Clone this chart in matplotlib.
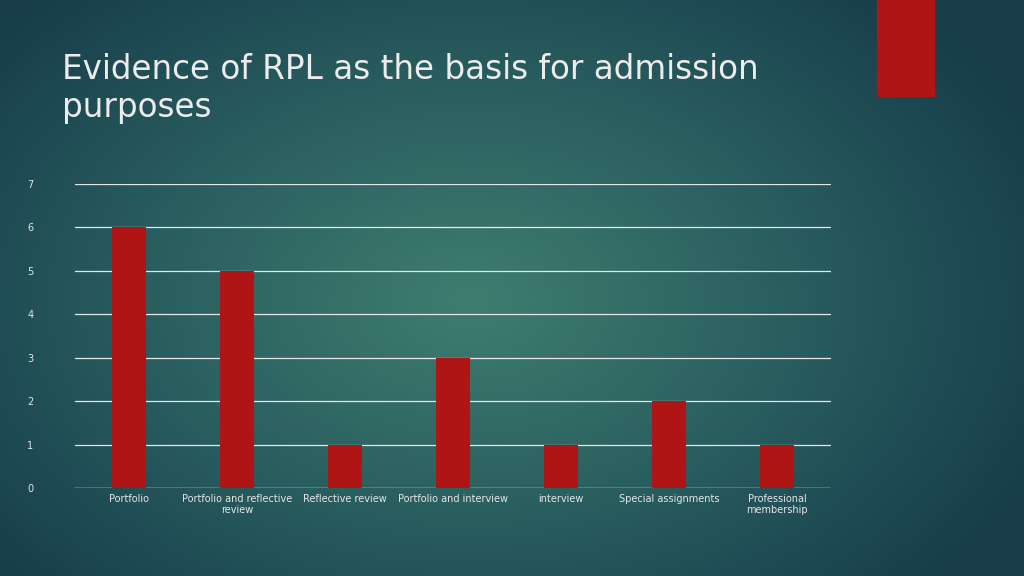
import numpy as np
import matplotlib
matplotlib.use("Agg")
import matplotlib.pyplot as plt
from matplotlib.colors import LinearSegmentedColormap
from matplotlib.patches import Rectangle

categories = ["Portfolio", "Portfolio and reflective\nreview", "Reflective review",
              "Portfolio and interview", "interview", "Special assignments",
              "Professional\nmembership"]
values = [6, 5, 1, 3, 1, 2, 1]
yticks = [0, 1, 2, 3, 4, 5, 6, 7]
title = "Evidence of RPL as the basis for admission\npurposes"

fig = plt.figure(figsize=(10.24, 5.76), dpi=100)

# background radial gradient
bg = fig.add_axes([0, 0, 1, 1])
yy, xx = np.mgrid[0:576, 0:1024]
d = np.sqrt(((xx - 470) / 620.0) ** 2 + ((yy - 300) / 420.0) ** 2)
cmap = LinearSegmentedColormap.from_list("bg", ["#3f7d70", "#2a5f60", "#173d4b"])
bg.imshow(np.clip(d, 0, 1), cmap=cmap, aspect="auto", extent=[0, 1024, 576, 0])
bg.add_patch(Rectangle((877, 0), 57, 96, color="#b01515"))
bg.set_xlim(0, 1024); bg.set_ylim(576, 0)
bg.axis("off")

fig.text(62 / 1024, 1 - 124 / 576, title, fontsize=23.5, color="#ececec",
         va="bottom", ha="left", linespacing=1.2)

ax = fig.add_axes([75 / 1024, 88 / 576, 756 / 1024, 304 / 576])
ax.patch.set_alpha(0)
x = np.arange(len(categories))
ax.bar(x, values, width=0.31, color="#b01515", zorder=3)
ax.set_xlim(-0.5, len(categories) - 0.5)
ax.set_ylim(0, 7)
ax.set_yticks(yticks)
ax.set_xticks(x)
ax.set_xticklabels(categories)
ax.grid(axis="y", color="#e6e6e6", linewidth=0.9, zorder=0)
for s in ax.spines.values():
    s.set_visible(False)
ax.axhline(0, color="#e6e6e6", linewidth=0.9, zorder=1)
ax.tick_params(axis="both", length=0, colors="#e6e6e6", labelsize=7)
ax.tick_params(axis="y", pad=30)
ax.tick_params(axis="x", pad=4)
fig.savefig("out.png", dpi=100)
